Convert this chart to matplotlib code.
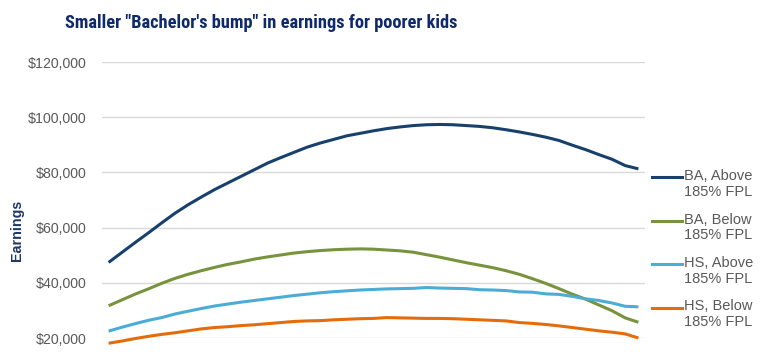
import matplotlib
matplotlib.use("Agg")
import matplotlib.pyplot as plt
from matplotlib.lines import Line2D
from matplotlib.ticker import FuncFormatter
import numpy as np

# earnings by age step (41 points, no x labels shown in the original)
ba_above = [47.4, 51.0, 54.6, 58.1, 61.7, 65.2, 68.3, 71.1, 73.8, 76.2,
            78.6, 81.0, 83.4, 85.4, 87.3, 89.2, 90.7, 92.0, 93.3, 94.2,
            95.1, 95.9, 96.5, 97.0, 97.3, 97.4, 97.3, 97.0, 96.7, 96.2,
            95.5, 94.7, 93.8, 92.8, 91.6, 89.9, 88.3, 86.5, 84.8, 82.5, 81.3]
ba_below = [31.7, 33.8, 35.9, 37.8, 39.8, 41.6, 43.1, 44.4, 45.6, 46.7,
            47.6, 48.6, 49.4, 50.1, 50.8, 51.3, 51.7, 52.0, 52.2, 52.3,
            52.2, 51.9, 51.6, 51.1, 50.2, 49.3, 48.3, 47.3, 46.4, 45.5,
            44.4, 43.1, 41.5, 39.8, 37.9, 35.9, 34.1, 32.0, 29.9, 27.3, 25.7]
hs_above = [22.5, 23.9, 25.2, 26.4, 27.4, 28.7, 29.7, 30.7, 31.6, 32.3,
            33.0, 33.6, 34.2, 34.8, 35.4, 35.9, 36.4, 36.8, 37.1, 37.4,
            37.6, 37.8, 37.9, 38.0, 38.3, 38.1, 38.0, 37.9, 37.5, 37.4,
            37.2, 36.7, 36.6, 36.0, 35.8, 35.1, 34.2, 33.6, 32.7, 31.5, 31.3]
hs_below = [18.1, 18.9, 19.8, 20.6, 21.3, 21.9, 22.6, 23.3, 23.8, 24.1,
            24.5, 24.8, 25.2, 25.6, 26.0, 26.2, 26.3, 26.6, 26.8, 27.0,
            27.1, 27.4, 27.3, 27.2, 27.1, 27.1, 27.0, 26.8, 26.6, 26.4,
            26.2, 25.6, 25.3, 24.9, 24.4, 23.8, 23.2, 22.6, 22.1, 21.5, 20.0]

series_labels = ["BA, Above\n185% FPL", "BA, Below\n185% FPL",
                 "HS, Above\n185% FPL", "HS, Below\n185% FPL"]
colors = ["#17406D", "#77933C", "#4BACD6", "#E46C0A"]

plt.rcParams["font.family"] = ["Liberation Sans", "DejaVu Sans"]

fig = plt.figure(figsize=(7.67, 3.57), dpi=100)
ax = fig.add_axes([0.133, 0.0532, 0.708, 0.7728])

x = np.arange(len(ba_above))
for vals, col in zip([ba_above, ba_below, hs_above, hs_below], colors):
    ax.plot(x, np.array(vals) * 1000, color=col, linewidth=2.2,
            clip_on=False, solid_capstyle="butt", zorder=3)

ax.set_xlim(-0.5, len(x) - 0.5)
ax.set_ylim(20000, 120000)
ax.set_yticks(np.arange(20000, 120001, 20000))
ax.yaxis.set_major_formatter(FuncFormatter(lambda v, p: f"${v:,.0f}"))
ax.set_xticks([])
ax.tick_params(axis="y", length=0, pad=11, labelsize=10.2, labelcolor="#595959")
ax.grid(axis="y", color="#D9D9D9", linewidth=1)
for s in ax.spines.values():
    s.set_visible(False)

fig.text(0.022, 1 - 230 / 357, "Earnings", rotation=90, ha="center", va="center",
         fontsize=10.3, fontweight="bold", color="#1F3864")

title = fig.text(261 / 767, 1 - 23 / 357,
                 "Smaller \"Bachelor's bump\" in earnings for poorer kids",
                 ha="center", va="center", fontsize=13.5, fontweight="bold",
                 color="#0E2A6B",
                 family=["Roboto Condensed", "Liberation Sans"])
# the original uses a narrow face; shrink until it fits the same width
fig.canvas.draw()
w = title.get_window_extent().width
if w > 400:
    title.set_fontsize(13.5 * 395 / w)

# legend, handle aligned with first text line like the original
for i, (lab, col) in enumerate(zip(series_labels, colors)):
    yc = 1 - (177 + i * 43.5) / 357
    fig.add_artist(Line2D([652 / 767, 682 / 767], [yc, yc], color=col,
                          linewidth=2.2, transform=fig.transFigure))
    fig.text(684 / 767, yc + 8 / 357, lab, ha="left", va="top",
             fontsize=10.5, color="#595959", linespacing=1.15)

fig.savefig("out.png", dpi=100)
